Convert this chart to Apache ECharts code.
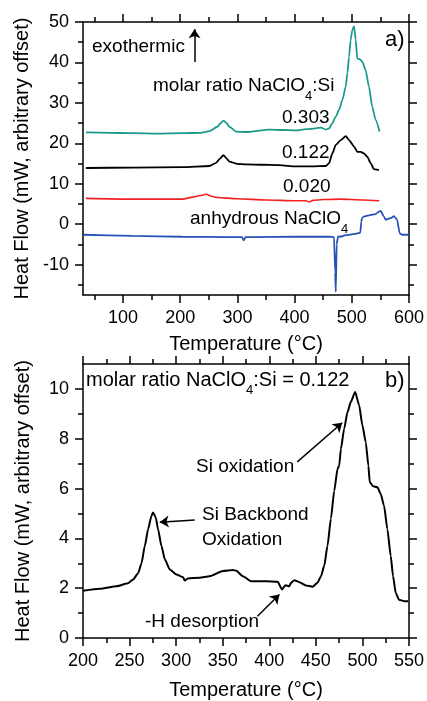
<!DOCTYPE html>
<html><head><meta charset="utf-8">
<script src="https://cdn.jsdelivr.net/npm/echarts@6/dist/echarts.min.js"></script>
<style>html,body{margin:0;padding:0;background:#fff}#c{width:427px;height:701px}</style>
</head><body><div id="c"></div>
<script>
const FONT = '"Liberation Sans", Arial, Helvetica, sans-serif';

// ---- Panel a) : DSC traces for several molar ratios (°C, mW with offset)
const tempA303 = [35, 80, 117, 160, 204, 235, 251, 265, 270, 275.6, 281, 286, 297.8, 315, 355.8, 380, 402.3, 420, 437, 446, 454.6, 460.3, 466, 472, 477.7, 483.5, 489.4, 492.2, 495.2, 498, 500.9, 503.9, 506.8, 509.6, 513.8, 518.3, 524.2, 530, 535.8, 541.7, 548.6];
const flowA303 = [22.7, 22.6, 22.5, 22.4, 22.5, 22.6, 23.0, 24.1, 24.9, 25.6, 25.0, 24.1, 22.9, 22.8, 23.4, 23.3, 23.2, 23.5, 23.7, 23.9, 23.4, 23.7, 25.0, 26.6, 28.3, 30.7, 34.0, 37.3, 41.4, 45.6, 48.0, 49.0, 45.6, 41.0, 40.8, 40.2, 38.1, 34.0, 29.0, 25.8, 22.9];

const tempA122 = [35, 117, 204, 251, 262, 270, 275.6, 281, 286, 300, 315, 343.6, 373.2, 402.3, 430, 454.6, 460.3, 466, 472, 480.7, 489.4, 495.2, 503.9, 509.6, 515.5, 521.3, 527, 533, 538.7, 547.4];
const flowA122 = [13.9, 14.0, 14.1, 14.4, 15.1, 16.3, 17.1, 16.3, 15.5, 14.9, 14.8, 14.7, 14.6, 14.3, 14.3, 14.4, 15.1, 17.5, 19.6, 20.8, 21.8, 20.8, 19.2, 17.9, 17.9, 17.5, 16.7, 15.1, 13.6, 13.4];

const tempA020 = [35, 117, 204, 222, 235, 245, 255, 265, 300, 350, 400, 420, 425.5, 432, 450, 480, 520, 548];
const flowA020 = [6.4, 6.2, 6.2, 6.7, 7.1, 7.4, 6.9, 6.6, 6.3, 6.0, 5.8, 5.8, 5.5, 5.9, 6.1, 6.2, 6.0, 5.8];

const tempAnh = [30, 117, 204, 280, 308, 311, 314, 330, 400, 460, 469, 471, 472, 473.5, 476, 480.7, 489.4, 505, 515, 516.5, 518.3, 521.3, 530, 541.7, 547.4, 550.4, 556.1, 559.1, 567.8, 573.6, 579.3, 583.5, 588, 600];
const flowAnh = [-2.6, -2.9, -3.1, -3.2, -3.2, -4.0, -3.2, -3.2, -3.1, -3.1, -3.2, -12, -16.7, -5, -3.0, -3.1, -2.7, -2.4, -2.1, 0.6, 1.6, 1.9, 2.2, 2.5, 3.1, 3.3, 1.9, 1.1, 1.5, 2.0, 1.1, -2.2, -2.6, -2.6];

// ---- Panel b) : molar ratio 0.122
const tempB = [200, 218.2, 236, 248.5, 253.8, 259.2, 262.8, 266.4, 269.9, 273.5, 275.2, 278.1, 280.6, 284.2, 287.8, 293.2, 300.3, 307.4, 309.2, 312.7, 325.2, 335.9, 350.2, 360.9, 364.5, 371.6, 380.6, 396.6, 409, 413.7, 417.3, 421.6, 423.4, 426.9, 432.3, 439.4, 446.5, 451.8, 455.5, 459, 462.5, 466.2, 469.7, 473.3, 475.1, 476.9, 480.4, 484, 487.6, 492.2, 496.5, 500, 503.6, 506.4, 507.9, 511.5, 516.1, 519.7, 523.2, 526.8, 530.4, 532.9, 535.8, 539.3, 544.6, 549.2];
const flowB = [1.9, 1.98, 2.08, 2.2, 2.35, 2.6, 3.0, 3.7, 4.37, 4.9, 5.04, 4.84, 4.37, 3.7, 3.16, 2.75, 2.55, 2.44, 2.31, 2.39, 2.42, 2.48, 2.69, 2.73, 2.7, 2.48, 2.28, 2.28, 2.26, 1.95, 2.12, 2.08, 2.22, 2.32, 2.24, 2.11, 2.06, 2.22, 2.48, 2.9, 3.7, 4.8, 5.9, 6.79, 6.92, 7.59, 8.4, 9.07, 9.48, 9.88, 9.34, 8.53, 7.86, 6.92, 6.25, 6.09, 6.05, 5.78, 5.31, 4.37, 3.29, 2.48, 1.81, 1.54, 1.48, 1.48];

// ---- tick values
const xTicksA = [100, 200, 300, 400, 500, 600];
const xMinorA = [50, 150, 250, 350, 450, 550];
const yTicksA = [-10, 0, 10, 20, 30, 40, 50];
const yMinorA = [-15, -5, 5, 15, 25, 35, 45];
const xTicksB = [200, 250, 300, 350, 400, 450, 500, 550];
const xMinorB = [225, 275, 325, 375, 425, 475, 525];
const yTicksB = [0, 2, 4, 6, 8, 10];
const yMinorB = [1, 3, 5, 7, 9];

const zip = (t, v) => t.map((x, i) => [x, v[i]]);

function axis(grid, pos, min, max, ticks, len, opts) {
  opts = opts || {};
  return Object.assign({
    type: 'value', gridIndex: grid, position: pos, min: min, max: max,
    axisLine: { show: !!opts.line, onZero: false, lineStyle: { color: '#000', width: 1.5 } },
    axisTick: { show: true, inside: false, length: len, customValues: ticks, lineStyle: { color: '#000', width: 1.5 } },
    axisLabel: { show: !!opts.labels, customValues: ticks, margin: 14, fontSize: 18, color: '#000', fontFamily: FONT },
    splitLine: { show: false }
  }, opts.extra || {});
}

const nameStyle = { fontSize: 20, color: '#000', fontFamily: FONT };

const xAxes = [
  axis(0, 'bottom', 30, 600, xTicksA, 8, { line: true, labels: true, extra: { name: 'Temperature (°C)', nameLocation: 'middle', nameGap: 39, nameTextStyle: nameStyle } }),
  axis(0, 'bottom', 30, 600, xMinorA, 5),
  axis(0, 'top', 30, 600, xTicksA, 8, { line: true }),
  axis(0, 'top', 30, 600, xMinorA, 5),
  axis(1, 'bottom', 200, 550, xTicksB, 8, { line: true, labels: true, extra: { name: 'Temperature (°C)', nameLocation: 'middle', nameGap: 42, nameTextStyle: nameStyle } }),
  axis(1, 'bottom', 200, 550, xMinorB, 5),
  axis(1, 'top', 200, 550, xTicksB, 8, { line: true }),
  axis(1, 'top', 200, 550, xMinorB, 5)
];
const yAxes = [
  axis(0, 'left', -17.5, 50, yTicksA, 8, { line: true, labels: true, extra: { name: 'Heat Flow (mW, arbitrary offset)', nameLocation: 'middle', nameGap: 50, nameTextStyle: nameStyle } }),
  axis(0, 'left', -17.5, 50, yMinorA, 5),
  axis(0, 'right', -17.5, 50, yTicksA, 8, { line: true }),
  axis(0, 'right', -17.5, 50, yMinorA, 5),
  axis(1, 'left', 0, 11, yTicksB, 8, { line: true, labels: true, extra: { name: 'Heat Flow (mW, arbitrary offset)', nameLocation: 'middle', nameGap: 50, nameTextStyle: nameStyle } }),
  axis(1, 'left', 0, 11, yMinorB, 5),
  axis(1, 'right', 0, 11, yTicksB, 8, { line: true }),
  axis(1, 'right', 0, 11, yMinorB, 5)
];

function arrows(list) {
  return {
    silent: true, animation: false,
    symbol: ['none', 'arrow'], symbolSize: 9,
    label: { show: false },
    lineStyle: { color: '#000', width: 1.5, type: 'solid' },
    emphasis: { disabled: true },
    data: list.map(p => [{ coord: p[0] }, { coord: p[1] }])
  };
}

function line(data, color, width, xi, yi, z, extra) {
  return Object.assign({
    type: 'line', data: data, xAxisIndex: xi, yAxisIndex: yi,
    showSymbol: false, symbol: 'none', smooth: 0.2, smoothMonotone: 'x',
    lineStyle: { color: color, width: width }, itemStyle: { color: color },
    silent: true, z: z
  }, extra || {});
}

const rich = (size) => ({
  a: { fontSize: size, lineHeight: 22, fontFamily: FONT, fill: '#000', color: '#000', verticalAlign: 'top' },
  s: { fontSize: 13, lineHeight: 13, fontFamily: FONT, fill: '#000', color: '#000', padding: [14, 0, 0, 0], verticalAlign: 'top' }
});

function txt(x, y, s, size) {
  return { type: 'text', x: x, y: y, silent: true,
    style: { text: s, fontSize: size || 19, fontFamily: FONT, fill: '#000', align: 'left', verticalAlign: 'middle' } };
}
function rtxt(x, yCenter, s, size) {
  return { type: 'text', x: x, y: yCenter - 11, silent: true,
    style: { text: s, rich: rich(size || 19), fontSize: size || 19, fontFamily: FONT, fill: '#000', align: 'left', verticalAlign: 'top' } };
}

const chart = echarts.init(document.getElementById('c'), null, { renderer: 'canvas' });
chart.setOption({
  animation: false,
  backgroundColor: '#fff',
  grid: [
    { left: 83, top: 22, width: 327, height: 273 },
    { left: 83, top: 364, width: 327, height: 274 }
  ],
  xAxis: xAxes,
  yAxis: yAxes,
  series: [
    line(zip(tempAnh, flowAnh), '#2652b6', 1.8, 0, 0, 2, { smooth: 0.1 }),
    line(zip(tempA020, flowA020), '#f22020', 1.6, 0, 0, 3),
    line(zip(tempA122, flowA122), '#000000', 1.8, 0, 0, 4),
    line(zip(tempA303, flowA303), '#1b9a8c', 1.8, 0, 0, 5, {
      markLine: arrows([[[225, 40.1], [225, 48.2]]])
    }),
    line(zip(tempB, flowB), '#000000', 2, 4, 4, 5, {
      markLine: arrows([
        [[430.1, 7.07], [478.3, 8.64]],
        [[319.9, 4.74], [282.4, 4.65]],
        [[387.3, 0.87], [410.9, 1.75]]
      ])
    })
  ],
  graphic: [
    txt(92, 47, 'exothermic'),
    rtxt(153, 87, '{a|molar ratio NaClO}{s|4}{a|:Si}'),
    txt(282, 118, '0.303'),
    txt(282, 153, '0.122'),
    txt(283, 187, '0.020'),
    rtxt(190, 220, '{a|anhydrous NaClO}{s|4}'),
    txt(385, 40, 'a)', 22),
    rtxt(86, 381, '{a|molar ratio NaClO}{s|4}{a|:Si = 0.122}', 20),
    txt(385, 381, 'b)', 22),
    txt(196, 467, 'Si oxidation'),
    txt(202, 515, 'Si Backbond'),
    txt(202, 540, 'Oxidation'),
    txt(145, 622, '-H desorption')
  ]
});
</script>
</body></html>
